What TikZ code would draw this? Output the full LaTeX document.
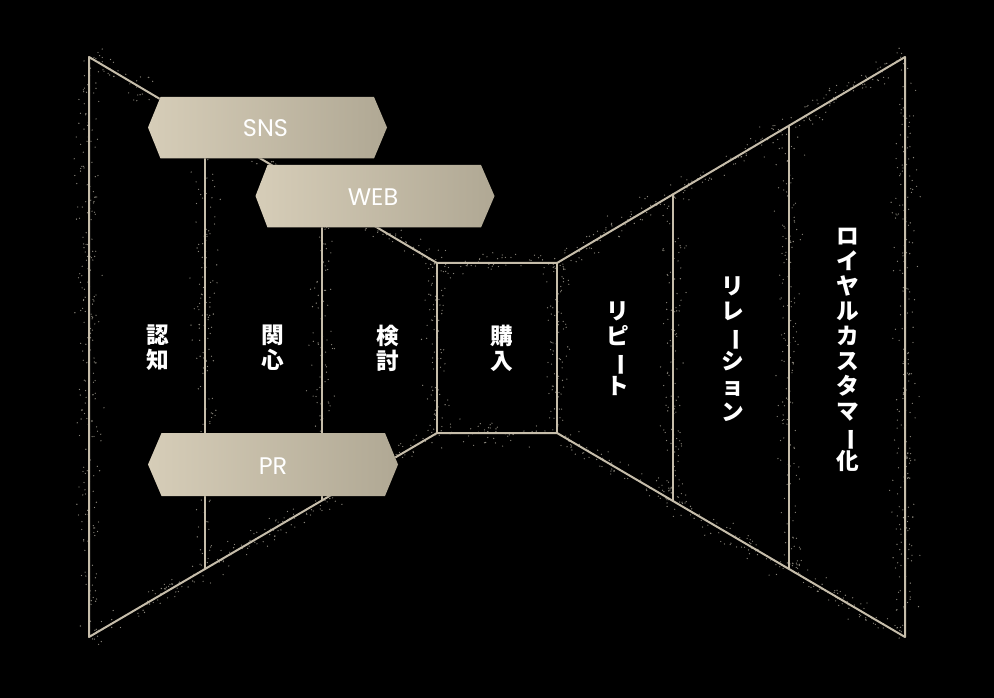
\documentclass[tikz,border=0pt]{standalone}
\usepackage{fontspec}
\usepackage{graphicx}
\setmainfont{Poppins}
\newfontfamily\jp{Noto Sans CJK JP}
\usetikzlibrary{calc}
\definecolor{funnelc}{RGB}{198,189,170}
\definecolor{bannerL}{RGB}{214,205,184}
\definecolor{bannerR}{RGB}{176,168,148}
\definecolor{dustc}{RGB}{138,134,124}
\newcommand\vchoon{\rotatebox[origin=c]{-90}{ー}}
\newcommand\dustline[5]{%
  \pgfmathsetmacro\dustDX{#3-#1}%
  \pgfmathsetmacro\dustDY{#4-#2}%
  \pgfmathsetmacro\dustL{veclen(\dustDX,\dustDY)}%
  \foreach \dustI in {1,...,#5}{%
    \pgfmathsetmacro\dustT{rnd}%
    \pgfmathsetmacro\dustO{(rand+rand+rand)*6}%
    \fill[dustc] ({#1+\dustT*\dustDX-\dustO*\dustDY/\dustL},{#2+\dustT*\dustDY+\dustO*\dustDX/\dustL}) circle (0.5pt);
  }%
}
\tikzset{
  funnel/.style={draw=funnelc, line width=1.5pt, line cap=round, line join=round},
  banner/.style={left color=bannerL, right color=bannerR, draw=none},
  bannertext/.style={text=white, font=\fontsize{18}{20}\selectfont},
  jlabel/.style={text=white, align=center, inner sep=0pt,
    font=\jp\bfseries\fontsize{17}{18.8}\selectfont},
}
\begin{document}
\begin{tikzpicture}[x=0.75pt,y=-0.75pt]
\fill[black] (0,0) rectangle (994,698);
\useasboundingbox (0,0) rectangle (994,698);
\pgfmathsetseed{7}
% dust
\dustline{89}{57}{89}{637}{230}
\dustline{89}{57}{437}{263}{190}
\dustline{89}{637}{437}{433}{190}
\dustline{205}{126}{205}{569}{160}
\dustline{322}{195}{322}{500}{120}
\dustline{437}{263}{437}{433}{80}
\dustline{557}{263}{557}{433}{80}
\dustline{437}{263}{557}{263}{50}
\dustline{437}{433}{557}{433}{50}
\dustline{557}{263}{905}{57}{190}
\dustline{557}{433}{905}{637}{190}
\dustline{673}{194}{673}{502}{120}
\dustline{789}{126}{789}{569}{160}
\dustline{905}{57}{905}{637}{230}
% funnel corners
\coordinate (LT) at (89,57);
\coordinate (LB) at (89,637);
\coordinate (CLT) at (437,263);
\coordinate (CLB) at (437,433);
\coordinate (CRT) at (557,263);
\coordinate (CRB) at (557,433);
\coordinate (RT) at (905,57);
\coordinate (RB) at (905,637);
\coordinate (A1t) at (205,125.7);
\coordinate (A1b) at (205,569);
\coordinate (A2t) at (322,195);
\coordinate (A2b) at (322,500.5);
\coordinate (B1t) at (673,194.3);
\coordinate (B1b) at (673,501);
\coordinate (B2t) at (789,125.7);
\coordinate (B2b) at (789,569);
\draw[funnel] (LT) -- (CLT) -- (CRT) -- (RT) -- (RB) -- (CRB) -- (CLB) -- (LB) -- cycle;
\draw[funnel] (CLT) -- (CLB);
\draw[funnel] (CRT) -- (CRB);
\draw[funnel] (A1t) -- (A1b);
\draw[funnel] (A2t) -- (A2b);
\draw[funnel] (B1t) -- (B1b);
\draw[funnel] (B2t) -- (B2b);
% banners
\fill[banner] (148,127.5) -- (160.5,97) -- (374,97) -- (387,127.5) -- (374,158.5) -- (160.5,158.5) -- cycle;
\node[bannertext] (sns) at (265.5,128) {SNS};
\fill[banner] (255.5,196) -- (267.5,165) -- (481,165) -- (494.5,196) -- (481,227.5) -- (267.5,227.5) -- cycle;
\node[bannertext] (web) at (373,197) {WEB};
\fill[banner] (148,464.5) -- (161.5,433) -- (385,433) -- (398,464.5) -- (385,496) -- (161.5,496) -- cycle;
\node[bannertext] (pr) at (273,466) {PR};
% labels
\node[jlabel] (ninchi) at (158,348) {認\\知};
\node[jlabel] (kanshin) at (273,348) {関\\心};
\node[jlabel] (kento) at (388,348) {検\\討};
\node[jlabel] (konyu) at (502,348) {購\\入};
\node[jlabel] (repeatl) at (618,349) {リ\\ピ\\\vchoon\\ト};
\node[jlabel] (relation) at (733,349) {リ\\レ\\\vchoon\\シ\\ョ\\ン};
\node[jlabel] (loyal) at (848,350) {ロ\\イ\\ヤ\\ル\\カ\\ス\\タ\\マ\\\vchoon\\化};
\end{tikzpicture}
\end{document}
